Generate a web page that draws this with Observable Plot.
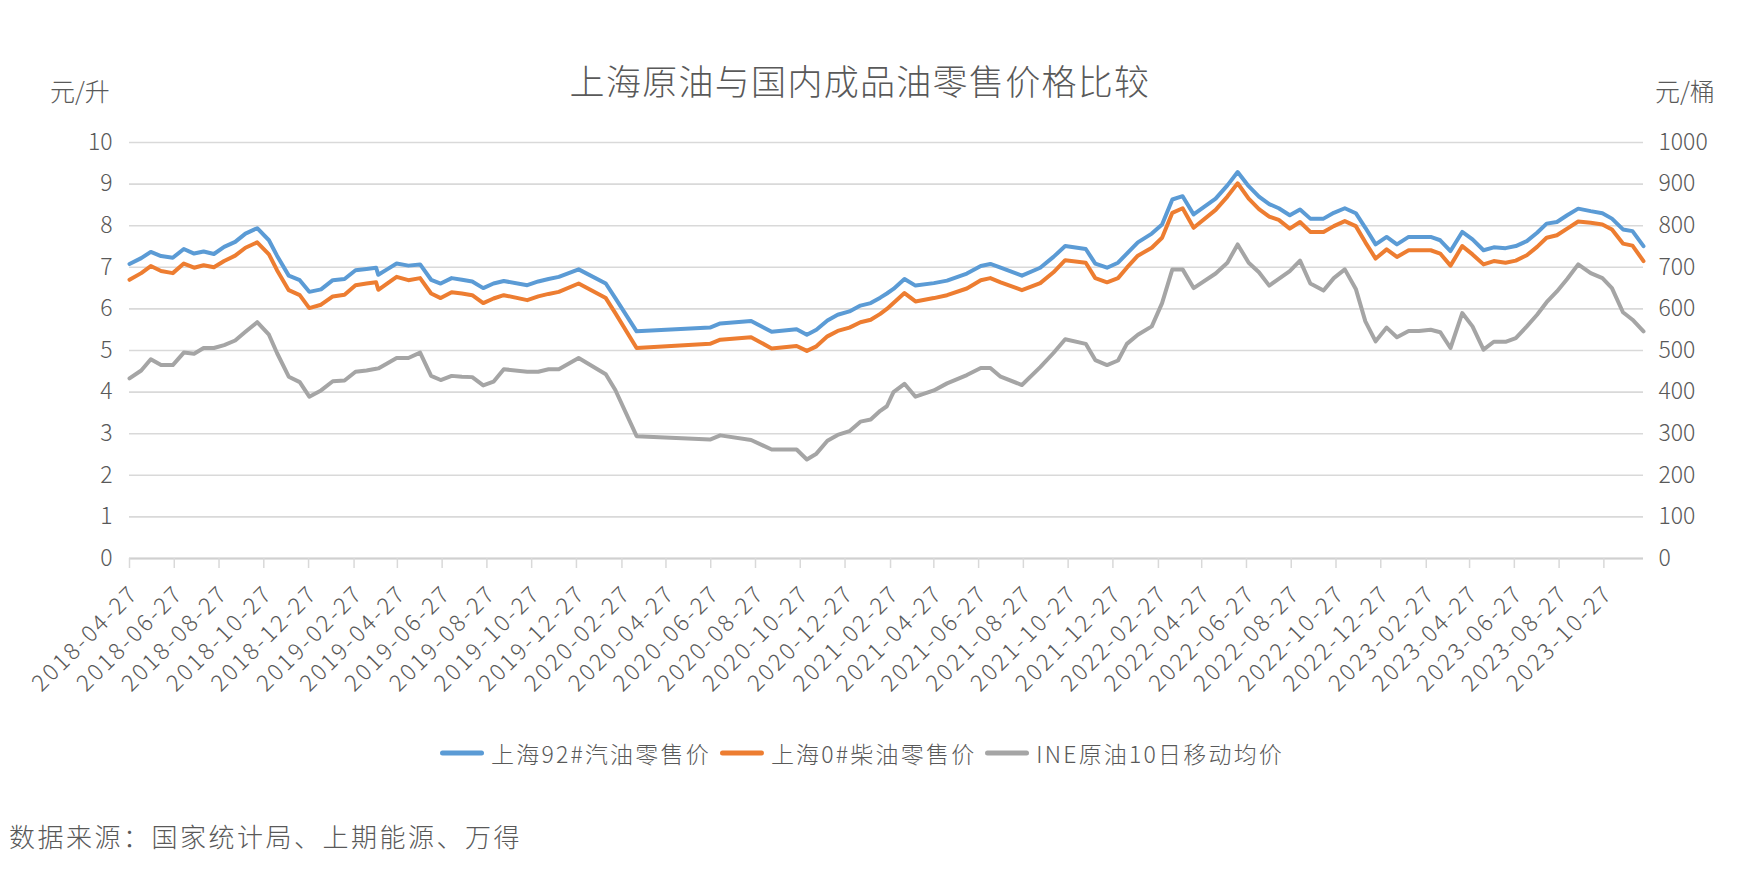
<!DOCTYPE html>
<html><head><meta charset="utf-8">
<script src="https://cdn.jsdelivr.net/npm/d3@7"></script>
<script src="https://cdn.jsdelivr.net/npm/@observablehq/plot@0.6"></script>
<style>
html,body{margin:0;padding:0;background:#fff;}
#wrap{position:relative;width:1737px;height:877px;overflow:hidden;font-family:"Noto Sans CJK SC","Noto Sans",sans-serif;color:#595959;font-weight:300;}
.abs{position:absolute;white-space:nowrap;line-height:1;transform:translateY(-50%);}
#chart{position:absolute;left:0;top:0;}
#legend{display:flex;align-items:center;font-size:23px;letter-spacing:2.2px;}
.sw{display:inline-block;width:44px;height:5px;border-radius:3px;margin-right:7px;}
.item{display:flex;align-items:center;margin-right:9px;}
g[aria-label="x-axis tick label"] text{letter-spacing:2.5px;}
svg text{font-weight:300;}
</style></head><body>
<div id="wrap">
  <div id="chart"></div>
  <div class="abs" style="left:0;width:1720px;text-align:center;top:79px;font-size:35px;letter-spacing:1.3px;">上海原油与国内成品油零售价格比较</div>
  <div class="abs" style="left:50px;top:90px;font-size:25px;">元/升</div>
  <div class="abs" style="left:1655px;top:90px;font-size:25px;">元/桶</div>
  <div class="abs" id="legend" style="left:440px;top:753px;"></div>
  <div class="abs" style="left:9px;top:836px;font-size:26px;letter-spacing:2.5px;">数据来源：国家统计局、上期能源、万得</div>
</div>
<script>
const dates = [
"2018-04-27","2018-05-13","2018-05-26","2018-06-09","2018-06-25","2018-07-10","2018-07-24","2018-08-06","2018-08-20","2018-09-03","2018-09-18","2018-10-02","2018-10-18","2018-11-03","2018-11-14","2018-11-30","2018-12-15","2018-12-28",
"2019-01-13","2019-01-29","2019-02-14","2019-03-01","2019-03-16","2019-03-29","2019-04-01","2019-04-13","2019-04-26","2019-05-12","2019-05-28","2019-06-12","2019-06-25","2019-07-10","2019-07-24","2019-08-07","2019-08-22","2019-09-05","2019-09-19","2019-10-21","2019-11-05","2019-11-19","2019-12-03","2019-12-30",
"2020-02-05","2020-02-18","2020-03-18","2020-06-26","2020-07-10","2020-08-21","2020-09-18","2020-10-22","2020-11-05","2020-11-18","2020-12-03","2020-12-17",
"2021-01-02","2021-01-17","2021-01-31","2021-02-13","2021-02-22","2021-03-03","2021-03-18","2021-04-02","2021-04-27","2021-05-15","2021-06-11","2021-06-30","2021-07-13","2021-07-27","2021-08-25","2021-09-19","2021-10-07","2021-10-23","2021-11-20","2021-12-03","2021-12-19",
"2022-01-03","2022-01-15","2022-01-30","2022-02-18","2022-03-04","2022-03-18","2022-04-01","2022-04-16","2022-05-16","2022-06-01","2022-06-15","2022-06-30","2022-07-14","2022-07-28","2022-08-10","2022-08-25","2022-09-08","2022-09-22","2022-10-10","2022-10-24","2022-11-08","2022-11-23","2022-12-06","2022-12-20",
"2023-01-04","2023-01-18","2023-02-03","2023-02-17","2023-03-05","2023-03-18","2023-04-01","2023-04-17","2023-05-01","2023-05-16","2023-05-30","2023-06-15","2023-06-29","2023-07-14","2023-07-28","2023-08-10","2023-08-24","2023-09-07","2023-09-22","2023-10-09","2023-10-25","2023-11-07","2023-11-22","2023-12-05","2023-12-20"
];
// 上海92#汽油零售价 (元/升)
const gasoline = [
7.08,7.22,7.37,7.27,7.23,7.44,7.33,7.38,7.32,7.49,7.61,7.81,7.94,7.65,7.28,6.80,6.69,6.41,
6.47,6.69,6.72,6.93,6.96,6.99,6.82,6.95,7.09,7.04,7.07,6.70,6.61,6.74,6.70,6.66,6.50,6.61,6.67,6.57,6.66,6.72,6.77,6.95,
6.61,6.26,5.46,5.55,5.65,5.71,5.45,5.51,5.38,5.50,5.72,5.86,
5.94,6.08,6.14,6.27,6.37,6.48,6.72,6.56,6.62,6.68,6.85,7.03,7.08,6.99,6.80,6.99,7.25,7.51,7.44,7.09,6.99,
7.11,7.33,7.60,7.81,8.03,8.63,8.71,8.27,8.65,8.97,9.29,8.95,8.70,8.52,8.42,8.25,8.39,8.17,8.17,8.31,8.42,8.30,7.95,7.55,
7.73,7.55,7.73,7.73,7.73,7.65,7.39,7.85,7.67,7.41,7.48,7.46,7.51,7.63,7.83,8.05,8.09,8.25,8.41,8.35,8.30,8.17,7.91,7.87,7.51
];
// 上海0#柴油零售价 (元/升)
const diesel = [
6.70,6.86,7.03,6.91,6.86,7.09,6.99,7.05,7.00,7.15,7.28,7.47,7.60,7.31,6.93,6.45,6.33,6.02,
6.10,6.30,6.34,6.57,6.61,6.64,6.46,6.61,6.77,6.69,6.74,6.37,6.26,6.40,6.37,6.33,6.14,6.25,6.33,6.21,6.30,6.36,6.41,6.61,
6.26,5.90,5.06,5.16,5.26,5.32,5.05,5.11,4.99,5.10,5.34,5.47,
5.55,5.68,5.74,5.88,6.00,6.14,6.38,6.18,6.26,6.33,6.49,6.69,6.74,6.64,6.45,6.62,6.88,7.17,7.11,6.74,6.64,
6.74,6.99,7.28,7.47,7.71,8.31,8.42,7.95,8.38,8.70,9.02,8.65,8.40,8.22,8.14,7.93,8.09,7.85,7.85,7.99,8.11,7.99,7.60,7.21,
7.43,7.25,7.41,7.41,7.41,7.33,7.04,7.51,7.31,7.07,7.15,7.11,7.16,7.29,7.49,7.71,7.77,7.93,8.10,8.07,8.03,7.91,7.57,7.52,7.15
];
// INE原油10日移动均价 (元/桶)
const ine = [
433,452,479,465,465,495,492,506,506,513,524,545,568,538,494,437,424,389,
404,426,428,449,452,456,457,469,482,482,495,439,429,439,437,436,416,425,455,449,449,455,455,482,
443,405,294,286,296,285,262,262,238,252,283,297,
306,329,334,355,366,400,420,389,404,421,441,458,458,437,417,460,494,527,516,477,465,
476,516,538,558,614,695,695,650,685,711,755,711,688,656,672,691,716,661,644,674,695,648,570,522,
555,532,547,547,550,544,506,590,558,502,521,521,530,558,586,616,642,672,707,686,674,650,592,574,546
];
const tickDates = [
"2018-04-27","2018-06-27","2018-08-27","2018-10-27","2018-12-27",
"2019-02-27","2019-04-27","2019-06-27","2019-08-27","2019-10-27","2019-12-27",
"2020-02-27","2020-04-27","2020-06-27","2020-08-27","2020-10-27","2020-12-27",
"2021-02-27","2021-04-27","2021-06-27","2021-08-27","2021-10-27","2021-12-27",
"2022-02-27","2022-04-27","2022-06-27","2022-08-27","2022-10-27","2022-12-27",
"2023-02-27","2023-04-27","2023-06-27","2023-08-27","2023-10-27"
];
const xDomain = ["2018-04-27","2023-12-20"];
const leftTicks = [0,1,2,3,4,5,6,7,8,9,10];
const rightTicks = [0,100,200,300,400,500,600,700,800,900,1000];
const seriesNames = ["上海92#汽油零售价","上海0#柴油零售价","INE原油10日移动均价"];
const seriesColors = ["#5B9BD5","#ED7D31","#A5A5A5"];

const parse = d3.utcParse("%Y-%m-%d");
const data = dates.map((d,i)=>({date: parse(d), gasoline: gasoline[i], diesel: diesel[i], ine: ine[i]}));
const FONT = '"Noto Sans CJK SC","Noto Sans",sans-serif';

const chart = Plot.plot({
  width: 1737, height: 720,
  marginLeft: 129, marginRight: 94, marginTop: 142, marginBottom: 162,
  style: {fontFamily: FONT, fontSize: "23px", color: "#595959", background: "transparent", overflow: "visible"},
  x: {type: "utc", domain: xDomain.map(parse)},
  y: {domain: [0, 10]},
  marks: [
    Plot.gridY(leftTicks, {stroke: "#d9d9d9", strokeOpacity: 1, strokeWidth: 1.6}),
    Plot.ruleY([0], {stroke: "#d0d0d0", strokeWidth: 2}),
    Plot.axisX(tickDates.map(parse), {tickSize: 10, stroke: "#d9d9d9", strokeOpacity: 1, strokeWidth: 1.5, text: null, label: null}),
    Plot.axisX(tickDates.map(parse), {tickFormat: d3.utcFormat("%Y-%m-%d"), tickRotate: -45, tickSize: 0, tickPadding: 30, dx: 5, dy: 1, fontSize: 23, label: null}),
    Plot.axisY(leftTicks, {anchor: "left", tickSize: 0, tickPadding: 17, fontSize: 23, label: null}),
    Plot.axisY(leftTicks, {anchor: "right", tickSize: 0, tickPadding: 15, fontSize: 23, tickFormat: (d,i) => String(rightTicks[i]), label: null}),
    Plot.line(data, {x: "date", y: "gasoline", stroke: seriesColors[0], strokeWidth: 4, strokeLinejoin: "round"}),
    Plot.line(data, {x: "date", y: "diesel", stroke: seriesColors[1], strokeWidth: 4, strokeLinejoin: "round"}),
    Plot.line(data, {x: "date", y: d => d.ine / 100, stroke: seriesColors[2], strokeWidth: 4, strokeLinejoin: "round"})
  ]
});
document.getElementById("chart").appendChild(chart);

const legend = document.getElementById("legend");
seriesNames.forEach((name, i) => {
  const item = document.createElement("div");
  item.className = "item";
  const sw = document.createElement("span");
  sw.className = "sw";
  sw.style.background = seriesColors[i];
  const t = document.createElement("span");
  t.textContent = name;
  item.appendChild(sw); item.appendChild(t);
  legend.appendChild(item);
});
</script>
</body></html>
